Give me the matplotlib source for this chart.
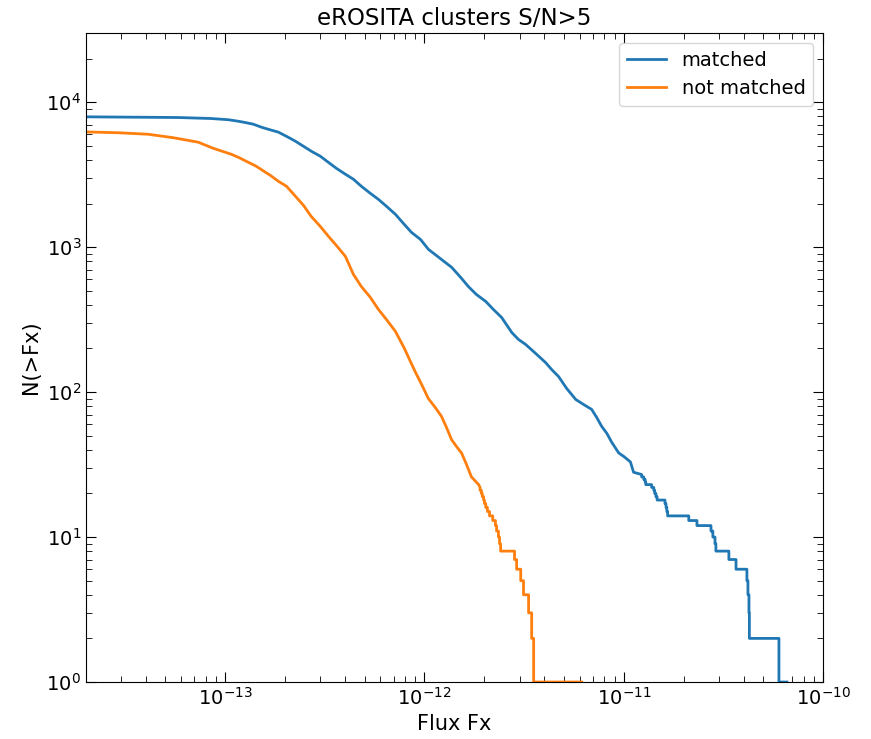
import matplotlib
matplotlib.use("Agg")
import matplotlib.pyplot as plt
import numpy as np

# matched: smooth part of N(>Fx)
matched_flux = [1.5e-14, 5.8e-14, 8.5e-14, 1.035e-13, 1.162e-13, 1.26e-13, 1.383e-13,
                1.52e-13, 1.644e-13, 1.85e-13, 2.07e-13, 2.25e-13, 2.47e-13, 2.71e-13,
                3.00e-13, 3.29e-13, 3.61e-13, 4.01e-13, 4.40e-13, 4.82e-13, 5.35e-13,
                5.87e-13, 6.44e-13, 7.15e-13, 7.83e-13, 8.60e-13, 9.55e-13, 1.047e-12,
                1.37e-12, 1.52e-12, 1.66e-12, 1.82e-12, 2.03e-12, 2.22e-12, 2.44e-12,
                2.74e-12, 2.96e-12, 3.22e-12, 3.61e-12, 4.05e-12, 4.35e-12, 4.71e-12,
                5.17e-12, 5.74e-12, 6.30e-12, 6.90e-12, 7.31e-12, 7.75e-12, 8.22e-12,
                8.71e-12, 9.44e-12, 1.0e-11, 1.08e-11, 1.12e-11]
matched_n = [7950, 7840, 7716, 7570, 7390, 7240, 7050, 6720, 6505, 6210, 5730, 5380,
             4965, 4580, 4240, 3850, 3500, 3184, 2940, 2630, 2350, 2137, 1915, 1684,
             1460, 1265, 1130, 965, 725, 618, 535, 472, 422, 371, 327, 258, 231, 213,
             185, 160, 143, 128, 106, 89, 82, 76, 67, 58, 52, 45, 38, 36, 33, 28]
# matched: fluxes of the brightest sources, brightest first
matched_tail = [6.59e-11, 6.01e-11, 4.27e-11, 4.25e-11, 4.20e-11, 4.15e-11, 3.66e-11,
                3.37e-11, 2.90e-11, 2.87e-11, 2.80e-11, 2.74e-11, 2.33e-11, 2.12e-11,
                1.66e-11, 1.645e-11, 1.63e-11, 1.61e-11, 1.47e-11, 1.45e-11, 1.43e-11,
                1.415e-11, 1.38e-11, 1.29e-11, 1.28e-11, 1.26e-11, 1.23e-11]

# not matched
unmatched_flux = [1.5e-14, 2.90e-14, 4.10e-14, 5.48e-14, 7.31e-14, 8.70e-14, 1.072e-13,
                  1.162e-13, 1.305e-13, 1.431e-13, 1.589e-13, 1.683e-13, 1.846e-13,
                  2.03e-13, 2.25e-13, 2.47e-13, 2.70e-13, 3.00e-13, 3.30e-13, 3.61e-13,
                  4.01e-13, 4.40e-13, 4.82e-13, 5.35e-13, 5.87e-13, 6.44e-13, 7.15e-13,
                  7.93e-13, 8.51e-13, 9.01e-13, 9.67e-13, 1.047e-12, 1.135e-12,
                  1.217e-12, 1.29e-12, 1.367e-12, 1.45e-12, 1.535e-12, 1.62e-12,
                  1.72e-12, 1.87e-12]
unmatched_n = [6300, 6155, 6010, 5690, 5300, 4810, 4375, 4170, 3850, 3615, 3290, 3130,
               2850, 2630, 2245, 1942, 1630, 1390, 1185, 1028, 863, 648, 535, 450, 372,
               317, 262, 200, 162, 137, 113, 90, 78, 68, 57, 47, 42, 38, 32, 26, 23]
unmatched_tail = [6.15e-12, 3.53e-12, 3.45e-12, 3.33e-12, 3.14e-12, 3.04e-12, 2.90e-12,
                  2.83e-12, 2.41e-12, 2.38e-12, 2.35e-12, 2.30e-12, 2.27e-12, 2.20e-12,
                  2.12e-12, 2.07e-12, 2.03e-12, 2.00e-12, 1.98e-12, 1.95e-12, 1.93e-12,
                  1.90e-12]


def curve(flux, n, tail):
    # smooth part, then the bright tail drawn as steps (N drops by one at each source)
    tail = np.array(tail)[::-1]
    levels = np.arange(len(tail), 0, -1)
    tx = np.repeat(tail, 2)[:-1]
    ty = np.concatenate([[levels[0]], np.repeat(levels[1:], 2)])
    return np.concatenate([flux, tx]), np.concatenate([n, ty])


fig = plt.figure(figsize=(8.71, 7.39), dpi=100)
ax = fig.add_axes([0.0987, 0.0771, 0.8462, 0.8782])

x, y = curve(matched_flux, matched_n, matched_tail)
ax.plot(x, y, lw=2, label="matched")
x, y = curve(unmatched_flux, unmatched_n, unmatched_tail)
ax.plot(x, y, lw=2, label="not matched")

ax.set_xscale("log")
ax.set_yscale("log")
ax.set_xlim(2e-14, 1e-10)
ax.set_ylim(1, 3e4)
ax.tick_params(which="both", direction="in", top=True, right=True, labelsize=14)
ax.tick_params(which="major", length=7)
ax.tick_params(which="minor", length=4)
ax.set_xlabel("Flux Fx", fontsize=15)
ax.set_ylabel("N(>Fx)", fontsize=15)
ax.set_title("eROSITA clusters S/N>5", fontsize=16.5)
ax.legend(fontsize=14, loc="upper right")

fig.savefig("out.png", dpi=100)
